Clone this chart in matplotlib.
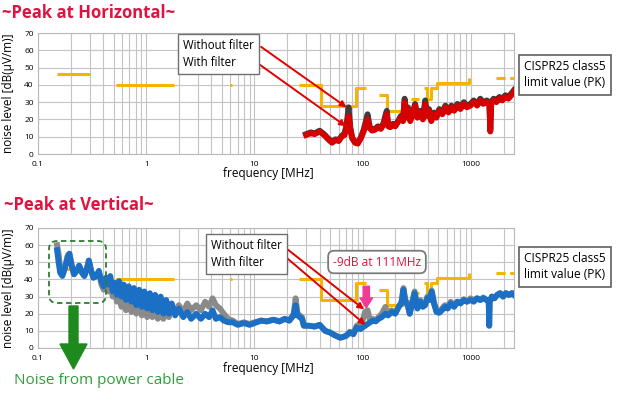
import matplotlib
matplotlib.use('Agg')
import matplotlib.pyplot as plt
from matplotlib.patches import FancyBboxPatch, FancyArrow

plt.rcParams['font.family'] = ['Open Sans', 'DejaVu Sans']

# colours
LIMIT = '#f5b400'
RED = '#d70000'
DARK = '#3c3c3c'
BLUE = '#1b6fc4'
GRAY = '#8a8a8a'
TITLE = '#e0123e'
GREEN = '#1e8a1e'

# x axis ticks
xticks = [0.1, 1, 10, 100, 1000]
xticklabels = ['0.1', '1', '10', '100', '1000']

# CISPR25 class5 limit (PK), pieces (freq MHz, level dB)
lim_lw_f, lim_lw_v = [0.15, 0.30], [46, 46]
lim_mw_f, lim_mw_v = [0.53, 1.8], [40, 40]
lim_sw_f, lim_sw_v = [5.9, 6.2], [40, 40]
lim_vhf_f = [26, 41, 41, 87, 87, 108]
lim_vhf_v = [40, 40, 28, 28, 38, 38]
lim_vhf2_f = [142, 167, 167, 240]
lim_vhf2_v = [34, 34, 25, 25]
lim_rke_f, lim_rke_v = [280, 330], [32, 32]
lim_uhf_f = [371, 395, 395, 430, 430, 489, 489, 960, 960]
lim_uhf_v = [38, 38, 32, 32, 38, 38, 41, 41, 44]
lim_gps_f, lim_gps_v = [1560, 1590], [28, 28]
lim_hi_f, lim_hi_v = [1700, 2500], [44, 44]

# horizontal polarisation
top_freq = [30, 33, 36, 40, 44, 48, 52, 56, 60, 64,
            68, 71, 74, 77, 80, 85, 90, 96, 102, 107,
            111, 116, 122, 130, 138, 147, 156, 163, 167, 172,
            180, 190, 200, 212, 225, 236, 244, 252, 262, 275,
            290, 305, 320, 340, 360, 378, 392, 410, 430, 455,
            480, 510, 545, 580, 620, 660, 700, 750, 800, 860,
            920, 990, 1060, 1140, 1220, 1300, 1400, 1480, 1510, 1540,
            1620, 1720, 1830, 1950, 2080, 2220, 2360, 2500]
top_with = [11, 12, 11.5, 13, 11, 8.5, 6.5, 8, 7.5, 10,
            11, 15, 22, 14, 9, 6.5, 6, 9, 13, 17,
            20, 15, 13.5, 14, 15.5, 14.5, 17, 21, 23, 16,
            15.5, 17, 16, 18.5, 21, 19, 30, 21, 26, 19,
            23, 28, 21, 24, 20, 29, 22, 25, 19, 23,
            21, 25, 23, 27, 24, 27, 25, 28, 26, 29,
            27, 28, 30, 28, 31, 29, 30, 29, 13, 29,
            31, 30, 32, 31, 33, 32, 34, 36]
top_without = [11.5, 12.5, 12, 13.5, 11.5, 9, 7, 8.5, 8, 10.5,
               12, 17, 27, 15, 9.5, 7, 6.5, 9.5, 14, 19,
               23, 16, 14, 14.5, 16, 15, 18, 23, 25, 17,
               16, 17.5, 16.5, 19, 22, 20, 32, 22, 27, 20,
               24, 29, 22, 25, 21, 31, 23, 26, 20, 24,
               22, 26, 24, 28, 25, 28, 26, 29, 27, 30,
               28, 29, 31, 29, 32, 30, 31, 30, 14, 30,
               32, 31, 33, 32, 34, 33, 35, 37]

# vertical polarisation
bot_freq = [0.150, 0.155, 0.160, 0.168, 0.178, 0.188, 0.195, 0.205, 0.215, 0.228,
            0.240, 0.255, 0.268, 0.282, 0.295, 0.310, 0.325, 0.345, 0.365, 0.385,
            0.405, 0.425, 0.445, 0.465, 0.49, 0.51, 0.535, 0.56, 0.59, 0.62,
            0.65, 0.69, 0.73, 0.77, 0.81, 0.86, 0.91, 0.96, 1.02, 1.08,
            1.14, 1.21, 1.28, 1.36, 1.44, 1.53, 1.62, 1.72, 1.85, 2.0,
            2.2, 2.4, 2.6, 2.9, 3.2, 3.5, 3.8, 4.1, 4.4, 4.8,
            5.2, 5.7, 6.3, 7, 8, 9, 10, 11.5, 13, 15,
            17, 19, 21, 23, 24, 25, 27.5, 28.6, 32, 36,
            40, 45, 50, 55, 62, 70, 76, 82, 88, 95,
            100, 105, 111, 117, 124, 132, 140, 150, 162, 172,
            185, 200, 215, 228, 238, 248, 260, 272, 284, 302,
            320, 340, 360, 377, 395, 415, 434, 455, 480, 510,
            540, 575, 610, 650, 700, 750, 800, 860, 920, 990,
            1060, 1140, 1220, 1300, 1400, 1460, 1475, 1490, 1560, 1650,
            1750, 1860, 1980, 2100, 2250, 2400, 2500]
bot_with = [57, 50, 44, 42, 47, 53, 55, 48, 43, 45,
            48, 44, 42, 46, 51, 45, 41, 42, 45, 39,
            36, 41, 37, 42, 33, 38, 31, 39, 30, 37,
            28, 36, 27, 35, 25, 34, 24, 33, 23, 32,
            22, 31, 21, 30, 20, 28, 20, 26, 19, 23,
            18, 21, 17, 20, 17, 20, 18, 22, 17, 18,
            16, 15, 15, 13.5, 14.5, 13.5, 14.5, 16, 15.5, 16.5,
            15.5, 17, 16, 19, 25, 19, 17, 13, 13, 12.5,
            13.5, 10, 9, 7.5, 6, 7, 9, 8, 12, 11,
            12, 13, 14, 15, 16, 15.5, 17, 18, 20, 19,
            21, 20, 24, 26, 34, 27, 25, 20, 25, 32,
            23, 27, 24, 25, 29, 28, 33, 26, 21, 20.5,
            22, 24, 23, 26, 24, 27, 26, 28, 27, 28,
            27, 29, 28, 29, 28, 27, 13, 27, 30, 29,
            31, 32, 30, 32, 31, 32, 31]
bot_without = [60, 55, 47, 43, 47, 54, 55, 48, 43, 45,
               48, 44, 42, 46, 51, 45, 41, 42, 44, 37,
               34, 40, 33, 40, 30, 36, 27, 35, 24, 32,
               22, 31, 21, 29, 20, 27, 19, 26, 18, 25,
               18, 24, 17, 24, 17, 23, 18, 23, 21, 25,
               21, 26, 22, 25, 22, 27, 24, 29, 25, 23,
               20, 17, 16, 14, 15, 14, 15, 16, 15.5, 16.5,
               15.5, 17, 16, 20, 29, 20, 18, 13, 13, 12.5,
               13.5, 10, 9, 7.5, 6, 7, 9.5, 8.5, 13, 14,
               16, 21, 22, 16, 17, 16, 18, 20, 24, 20,
               22, 20.5, 24, 27, 35, 28, 26, 20, 26, 33,
               24, 28, 25, 25, 30, 29, 33.5, 27, 22, 21,
               23, 25, 24, 27, 25, 27, 26, 28.5, 27, 29,
               28, 29, 28, 29.5, 28, 27, 13, 27, 30, 29,
               31, 32, 30, 32, 31, 32, 31]


def setup_axes(ax, xlab_y):
    ax.set_xscale('log')
    ax.set_xlim(0.1, 2500)
    ax.set_ylim(0, 70)
    ax.set_yticks(range(0, 71, 10))
    ax.set_xticks(xticks)
    ax.set_xticklabels(xticklabels)
    ax.grid(True, which='both', axis='x', color='#c4c4c4', lw=0.8)
    ax.grid(True, which='major', axis='y', color='#c4c4c4', lw=0.8)
    ax.set_axisbelow(True)
    for s in ax.spines.values():
        s.set_color('#b8b8b8')
        s.set_linewidth(0.8)
    ax.tick_params(which='both', length=0, labelsize=6, pad=5)
    ax.tick_params(axis='y', pad=3)
    ax.set_ylabel('noise level [dB(μV/m)]', fontsize=8.5)
    ax.yaxis.set_label_coords(-0.048, 0.5)
    ax.set_xlabel('frequency [MHz]', fontsize=8.5)
    ax.xaxis.set_label_coords(0.483, xlab_y)


def draw_limits(ax):
    for f, v in [(lim_lw_f, lim_lw_v), (lim_mw_f, lim_mw_v), (lim_sw_f, lim_sw_v),
                 (lim_vhf_f, lim_vhf_v), (lim_vhf2_f, lim_vhf2_v), (lim_rke_f, lim_rke_v),
                 (lim_uhf_f, lim_uhf_v), (lim_gps_f, lim_gps_v)]:
        ax.plot(f, v, color=LIMIT, lw=2.2, solid_capstyle='butt', zorder=3)
    ax.plot(lim_hi_f, lim_hi_v, color=LIMIT, lw=2.2, ls=(0, (3, 1.5)), zorder=3)


fig = plt.figure(figsize=(6.21, 3.93), dpi=100)
ax1 = fig.add_axes([38 / 621, 1 - 154 / 393, 476 / 621, 121 / 393])
ax2 = fig.add_axes([38 / 621, 1 - 348 / 393, 476 / 621, 120 / 393])

setup_axes(ax1, -0.11)
setup_axes(ax2, -0.12)

# top chart
draw_limits(ax1)
ax1.plot(top_freq, top_without, color=DARK, lw=4.2, zorder=4)
ax1.plot(top_freq, top_with, color=RED, lw=4.2, zorder=5)

# bottom chart
draw_limits(ax2)
ax2.plot(bot_freq, bot_without, color=GRAY, lw=4.2, zorder=4)
ax2.plot(bot_freq, bot_with, color=BLUE, lw=4.2, zorder=5)

# titles
fig.text(2 / 621, 1 - 13 / 393, '~Peak at Horizontal~', color=TITLE, fontsize=12,
         fontweight='bold', va='center', ha='left')
fig.text(4 / 621, 1 - 205 / 393, '~Peak at Vertical~', color=TITLE, fontsize=12,
         fontweight='bold', va='center', ha='left')

# filter legend boxes + arrows
box_kw = dict(boxstyle='square,pad=0.45', fc='white', ec='#707070', lw=1.0)
fig.text(183 / 621, 1 - 54 / 393, 'Without filter\nWith filter', fontsize=8.3,
         va='center', ha='left', linespacing=1.35, bbox=box_kw, zorder=10)
fig.text(211 / 621, 1 - 254 / 393, 'Without filter\nWith filter', fontsize=8.3,
         va='center', ha='left', linespacing=1.35, bbox=box_kw, zorder=10)

arr_kw = dict(arrowstyle='-|>', color='#e00000', lw=1.4, mutation_scale=9,
              shrinkA=0, shrinkB=0)
ax1.annotate('', xy=(71, 27), xytext=(11.5, 62), arrowprops=arr_kw, zorder=11)
ax1.annotate('', xy=(70, 16), xytext=(11, 52), arrowprops=arr_kw, zorder=11)
ax2.annotate('', xy=(103, 22.5), xytext=(18, 60), arrowprops=arr_kw, zorder=11)
ax2.annotate('', xy=(106, 13.5), xytext=(19.5, 53), arrowprops=arr_kw, zorder=11)

# CISPR boxes
cis_kw = dict(boxstyle='square,pad=0.45', fc='white', ec='#606060', lw=1.2)
fig.text(524 / 621, 1 - 75 / 393, 'CISPR25 class5\nlimit value (PK)', fontsize=8.6,
         va='center', ha='left', linespacing=1.3, bbox=cis_kw)
fig.text(524 / 621, 1 - 267 / 393, 'CISPR25 class5\nlimit value (PK)', fontsize=8.6,
         va='center', ha='left', linespacing=1.3, bbox=cis_kw)

# -9dB note
fig.text(377 / 621, 1 - 262 / 393, '-9dB at 111MHz', fontsize=8.6, color=TITLE,
         va='center', ha='center',
         bbox=dict(boxstyle='round,pad=0.4,rounding_size=0.5', fc='white', ec='#7a7a7a', lw=1.3),
         zorder=12)
ax2.annotate('', xy=(108, 23.5), xytext=(108, 36),
             arrowprops=dict(arrowstyle='simple,head_width=0.9,head_length=0.7,tail_width=0.45',
                             color='#f03c96', shrinkA=0, shrinkB=0), zorder=12)

# noise from power cable
fig.add_artist(FancyBboxPatch((0.49, 0.90), 0.57, 0.62, boxstyle='round,pad=0,rounding_size=0.08',
                              transform=fig.dpi_scale_trans, fc='none', ec='#2e7d32',
                              lw=1.3, ls=(0, (3, 2)), zorder=12))
fig.add_artist(FancyArrow(0.735, 0.87, 0, -0.63, width=0.09, head_width=0.27,
                          head_length=0.25, length_includes_head=True,
                          transform=fig.dpi_scale_trans, color=GREEN, zorder=12))
fig.text(14 / 621, 1 - 381 / 393, 'Noise from power cable', fontsize=11, color='#2f9e3a',
         va='center', ha='left')

fig.savefig('out.png', dpi=100)
